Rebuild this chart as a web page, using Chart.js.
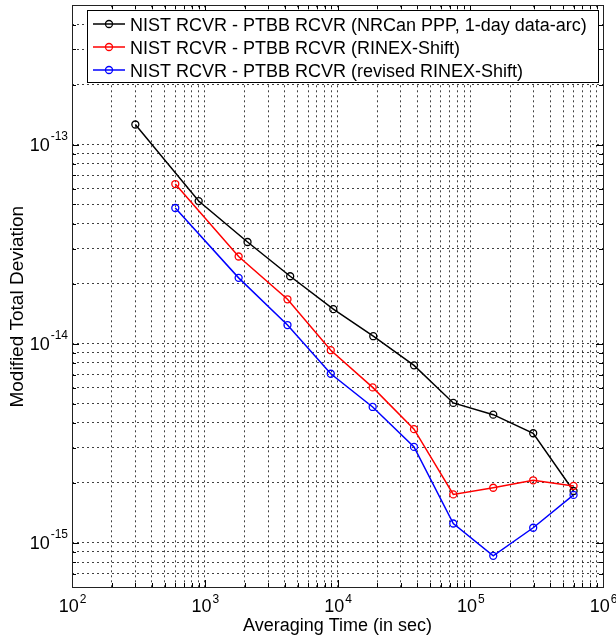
<!DOCTYPE html>
<html>
<head>
<meta charset="utf-8">
<script src="https://cdn.jsdelivr.net/npm/chart.js@4.4.0/dist/chart.umd.min.js"></script>
<style>
  body { margin: 0; background: #fff; }
  #wrap { width: 616px; height: 638px; }
</style>
</head>
<body>
<div id="wrap"><canvas id="adevChart" width="616" height="638"></canvas></div>
<script>
// averaging times (s) and modified total deviation
const nrcanTau = [300, 900, 2100, 4400, 9300, 18600, 37700, 74500, 149000, 298000, 600000];
const nrcanDev = [1.26e-13, 5.2e-14, 3.24e-14, 2.18e-14, 1.49e-14, 1.09e-14, 7.78e-15, 5.04e-15, 4.4e-15, 3.55e-15, 1.82e-15];

const rinexTau = [600, 1800, 4200, 8900, 18400, 37700, 74500, 149000, 298000, 600000];
const rinexDev = [6.33e-14, 2.74e-14, 1.67e-14, 9.27e-15, 6.03e-15, 3.72e-15, 1.75e-15, 1.89e-15, 2.06e-15, 1.93e-15];

const revisedTau = [600, 1800, 4200, 8900, 18400, 37700, 74500, 149000, 298000, 600000];
const revisedDev = [4.8e-14, 2.14e-14, 1.24e-14, 7.06e-15, 4.81e-15, 3.03e-15, 1.25e-15, 8.6e-16, 1.19e-15, 1.74e-15];

const seriesLabels = [
    'NIST RCVR - PTBB RCVR (NRCan PPP, 1-day data-arc)',
    'NIST RCVR - PTBB RCVR (RINEX-Shift)',
    'NIST RCVR - PTBB RCVR (revised RINEX-Shift)'
];

// axis decades (labelled as 10^n) and grid mantissas
const xExponents = [2, 3, 4, 5, 6];
const yExponents = [-15, -14, -13];
const mantissas = [1, 2, 3, 4, 5, 6, 7, 8, 9];
const xMin = 1e2, xMax = 1e6;
const yMin = 6e-16, yMax = 5e-13;

const FONT = '"Liberation Sans", Arial, sans-serif';

function toPoints(xs, ys) {
    return xs.map((x, i) => ({ x: x, y: ys[i] }));
}

// every 1..9 x 10^n value between min and max, for the dotted grid
function gridValues(lo, hi) {
    const out = [];
    const e0 = Math.floor(Math.log10(lo)), e1 = Math.ceil(Math.log10(hi));
    for (let e = e0; e <= e1; e++) {
        mantissas.forEach(m => {
            const v = parseFloat(m + 'e' + e);
            if (v >= lo * 0.999 && v <= hi * 1.001) out.push(v);
        });
    }
    return out;
}

// order: the first series is painted first, so later ones sit on top
function makeSeries(label, xs, ys, color, order) {
    return {
        label: label,
        data: toPoints(xs, ys),
        order: order,
        showLine: true,
        borderColor: color,
        backgroundColor: 'rgba(0,0,0,0)',
        borderWidth: 1.5,
        pointRadius: 3.5,
        pointBorderWidth: 1.3,
        pointBorderColor: color,
        pointBackgroundColor: 'rgba(0,0,0,0)',
        tension: 0
    };
}

// matlab-like frame, inside ticks, 10^n labels and boxed legend
const matlabAxes = {
    id: 'matlabAxes',
    afterDraw(chart) {
        const ctx = chart.ctx;
        const area = chart.chartArea;
        const xs = chart.scales.x, ys = chart.scales.y;
        ctx.save();

        // tick marks inside the box on all four sides
        ctx.strokeStyle = '#000';
        ctx.lineWidth = 1;
        ctx.beginPath();
        gridValues(xMin, xMax).forEach(v => {
            const px = Math.round(xs.getPixelForValue(v)) + 0.5;
            const len = Math.abs(Math.log10(v) - Math.round(Math.log10(v))) < 1e-6 ? 7 : 4;
            ctx.moveTo(px, area.bottom); ctx.lineTo(px, area.bottom - len);
            ctx.moveTo(px, area.top); ctx.lineTo(px, area.top + len);
        });
        gridValues(yMin, yMax).forEach(v => {
            const py = Math.round(ys.getPixelForValue(v)) + 0.5;
            const len = Math.abs(Math.log10(v) - Math.round(Math.log10(v))) < 1e-6 ? 7 : 4;
            ctx.moveTo(area.left, py); ctx.lineTo(area.left + len, py);
            ctx.moveTo(area.right, py); ctx.lineTo(area.right - len, py);
        });
        ctx.stroke();

        // box
        ctx.strokeStyle = '#222';
        ctx.strokeRect(Math.round(area.left) + 0.5, Math.round(area.top) + 0.5,
            Math.round(area.right - area.left), Math.round(area.bottom - area.top));

        // tick labels
        ctx.fillStyle = '#000';
        ctx.textBaseline = 'alphabetic';
        xExponents.forEach(e => {
            const px = xs.getPixelForValue(Math.pow(10, e));
            ctx.font = '18px ' + FONT;
            const wb = ctx.measureText('10').width;
            ctx.font = '12px ' + FONT;
            const we = ctx.measureText(String(e)).width;
            const x0 = px - (wb + we) / 2;
            ctx.textAlign = 'left';
            ctx.font = '18px ' + FONT;
            ctx.fillText('10', x0, area.bottom + 25);
            ctx.font = '12px ' + FONT;
            ctx.fillText(String(e), x0 + wb + 1, area.bottom + 16);
        });
        yExponents.forEach(e => {
            const py = ys.getPixelForValue(Math.pow(10, e));
            ctx.font = '12px ' + FONT;
            const expText = String(e);
            const we = ctx.measureText(expText).width;
            ctx.textAlign = 'right';
            ctx.fillText(expText, area.left - 4, py - 5);
            ctx.font = '18px ' + FONT;
            ctx.fillText('10', area.left - 4 - we - 1, py + 6);
        });

        // legend
        const lx = 87, ly = 10, lw = 511, lh = 72;
        ctx.fillStyle = '#fff';
        ctx.fillRect(lx, ly, lw, lh);
        ctx.strokeStyle = '#000';
        ctx.strokeRect(lx + 0.5, ly + 0.5, lw, lh);
        chart.data.datasets.forEach((ds, i) => {
            const cy = 24 + i * 23;
            ctx.strokeStyle = ds.borderColor;
            ctx.lineWidth = 1.5;
            ctx.beginPath();
            ctx.moveTo(93, cy); ctx.lineTo(125, cy);
            ctx.stroke();
            ctx.lineWidth = 1.3;
            ctx.beginPath();
            ctx.arc(109, cy, 3.5, 0, Math.PI * 2);
            ctx.stroke();
            ctx.fillStyle = '#000';
            ctx.textAlign = 'left';
            ctx.font = '18px ' + FONT;
            ctx.fillText(ds.label, 130, cy + 6.5);
        });
        ctx.restore();
    }
};

document.addEventListener('DOMContentLoaded', function() {
    const ctx = document.getElementById('adevChart').getContext('2d');
    new Chart(ctx, {
        type: 'scatter',
        data: {
            datasets: [
                makeSeries(seriesLabels[0], nrcanTau, nrcanDev, '#000000', 3),
                makeSeries(seriesLabels[1], rinexTau, rinexDev, '#ff0000', 2),
                makeSeries(seriesLabels[2], revisedTau, revisedDev, '#0000ff', 1)
            ]
        },
        options: {
            responsive: false,
            animation: false,
            maintainAspectRatio: false,
            layout: { padding: { top: 5, right: 13, left: 0, bottom: 0 } },
            plugins: {
                legend: { display: false },
                tooltip: { enabled: false }
            },
            scales: {
                x: {
                    type: 'logarithmic',
                    min: xMin,
                    max: xMax,
                    afterBuildTicks: scale => { scale.ticks = gridValues(xMin, xMax).map(v => ({ value: v })); },
                    afterFit: scale => { scale.height = 51; },
                    ticks: { display: false },
                    grid: { color: 'rgba(0,0,0,0.75)', lineWidth: 1, drawTicks: false },
                    border: { display: false, dash: [2, 3] },
                    title: {
                        display: true,
                        text: 'Averaging Time (in sec)',
                        color: '#000',
                        font: { family: FONT, size: 18 },
                        padding: { top: 0, bottom: 1 }
                    }
                },
                y: {
                    type: 'logarithmic',
                    min: yMin,
                    max: yMax,
                    afterBuildTicks: scale => { scale.ticks = gridValues(yMin, yMax).map(v => ({ value: v })); },
                    afterFit: scale => { scale.width = 72; },
                    ticks: { display: false },
                    grid: { color: 'rgba(0,0,0,0.75)', lineWidth: 1, drawTicks: false },
                    border: { display: false, dash: [2, 3] },
                    title: {
                        display: true,
                        text: 'Modified Total Deviation    ',
                        color: '#000',
                        font: { family: FONT, size: 19 },
                        padding: { top: 6, bottom: 0 }
                    }
                }
            }
        },
        plugins: [matlabAxes]
    });
});
</script>
</body>
</html>
